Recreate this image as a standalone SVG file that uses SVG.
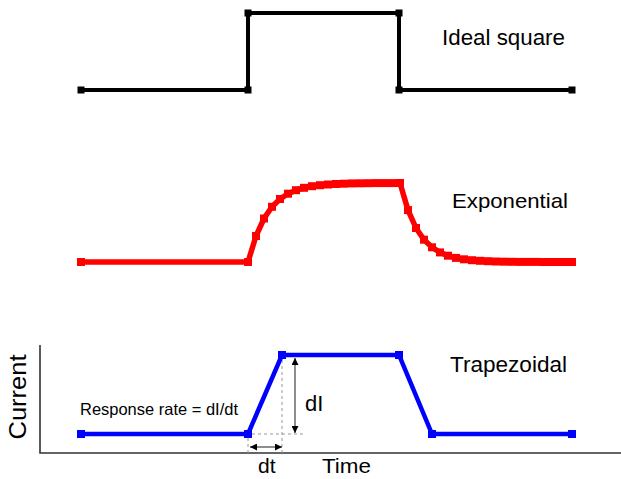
<svg xmlns="http://www.w3.org/2000/svg" width="621" height="479" viewBox="0 0 621 479">
<style>
.lbl{font-family:"Liberation Sans",Arial,sans-serif;fill:#000}
.blk{fill:none;stroke:#000;stroke-width:4}
.red{fill:none;stroke:#ff0000;stroke-width:5.5;stroke-linejoin:round}
.blu{fill:none;stroke:#0000ff;stroke-width:4.5}
.mb{fill:#000}
.mr{fill:#ff0000}
.mu{fill:#0000ff}
.dash{fill:none;stroke:#999;stroke-width:1;stroke-dasharray:3,3}
.arr{fill:none;stroke:#444;stroke-width:1.2}
.axis{fill:none;stroke:#333;stroke-width:1.6}
</style>
<defs>
<marker id="ah" viewBox="0 0 10 10" refX="10" refY="5" markerWidth="7" markerHeight="7" markerUnits="userSpaceOnUse" orient="auto-start-reverse">
<path d="M0,0 L10,5 L0,10 z" fill="#000"/>
</marker>
<rect id="sq" x="-4" y="-4" width="8" height="8"/>
<rect id="sr" x="-3.5" y="-3.5" width="7" height="7"/>
<rect id="sx" x="-4" y="-4" width="8" height="8"/>
</defs>
<rect width="621" height="479" fill="#fff"/>

<g id="axes">
<polyline class="axis" points="40,345 40,453 621,453"/>
</g>

<g id="ideal-square">
<polyline class="blk" points="81,90 248,90 248,13 399,13 399,90 572,90"/>
<g class="mb">
<use href="#sr" x="81" y="90"/><use href="#sr" x="248" y="90"/><use href="#sr" x="248" y="13"/>
<use href="#sr" x="399" y="13"/><use href="#sr" x="399" y="90"/><use href="#sr" x="572" y="90"/>
</g>
<text class="lbl" x="442" y="45" font-size="22" textLength="123" lengthAdjust="spacingAndGlyphs">Ideal square</text>
</g>

<g id="exponential">
<polyline class="red" points="81,262 248,262 256,236 264,218.5 272,206.8 280,199 288,193.7 296,190.2 304,187.8 312,186.2 320,185.2 328,184.5 336,184 344,183.7 352,183.4 360,183.3 368,183.2 376,183.1 384,183.1 392,183.1 400,183 408,210.1 416,228 424,239.7 432,247.3 440,252.4 448,255.7 456,257.9 464,259.3 472,260.2 480,260.8 488,261.2 496,261.5 504,261.7 512,261.8 520,261.9 528,261.9 536,261.9 544,262 552,262 560,262 568,262 572,262"/>
<g class="mr">
<use href="#sx" x="81" y="262"/><use href="#sx" x="248" y="262"/>
<use href="#sx" x="256" y="236"/><use href="#sx" x="264" y="218.5"/><use href="#sx" x="272" y="206.8"/><use href="#sx" x="280" y="199"/>
<use href="#sx" x="288" y="193.7"/><use href="#sx" x="296" y="190.2"/><use href="#sx" x="304" y="187.8"/><use href="#sx" x="312" y="186.2"/>
<use href="#sx" x="320" y="185.2"/><use href="#sx" x="328" y="184.5"/><use href="#sx" x="336" y="184"/><use href="#sx" x="344" y="183.7"/>
<use href="#sx" x="352" y="183.4"/><use href="#sx" x="360" y="183.3"/><use href="#sx" x="368" y="183.2"/><use href="#sx" x="376" y="183.1"/>
<use href="#sx" x="384" y="183.1"/><use href="#sx" x="392" y="183.1"/><use href="#sx" x="400" y="183"/>
<use href="#sx" x="408" y="210.1"/><use href="#sx" x="416" y="228"/><use href="#sx" x="424" y="239.7"/><use href="#sx" x="432" y="247.3"/>
<use href="#sx" x="440" y="252.4"/><use href="#sx" x="448" y="255.7"/><use href="#sx" x="456" y="257.9"/><use href="#sx" x="464" y="259.3"/>
<use href="#sx" x="472" y="260.2"/><use href="#sx" x="480" y="260.8"/><use href="#sx" x="488" y="261.2"/><use href="#sx" x="496" y="261.5"/>
<use href="#sx" x="504" y="261.7"/><use href="#sx" x="512" y="261.8"/><use href="#sx" x="520" y="261.9"/><use href="#sx" x="528" y="261.9"/>
<use href="#sx" x="536" y="261.9"/><use href="#sx" x="544" y="262"/><use href="#sx" x="552" y="262"/><use href="#sx" x="560" y="262"/>
<use href="#sx" x="568" y="262"/><use href="#sx" x="572" y="262"/>
</g>
<text class="lbl" x="452" y="208" font-size="21" textLength="116" lengthAdjust="spacingAndGlyphs">Exponential</text>
</g>

<g id="trapezoidal">
<g id="guides">
<line class="dash" x1="282" y1="360" x2="282" y2="453"/>
<line class="dash" x1="252" y1="434" x2="304" y2="434"/>
<line class="dash" x1="248" y1="438" x2="248" y2="453"/>
</g>
<polyline class="blu" points="81,434 248,434 282,355 399,355 432,434 572,434"/>
<g class="mu">
<use href="#sq" x="81" y="434"/><use href="#sq" x="248" y="434"/><use href="#sq" x="282" y="355"/>
<use href="#sq" x="399" y="355"/><use href="#sq" x="432" y="434"/><use href="#sq" x="572" y="434"/>
</g>
<text class="lbl" x="450" y="372" font-size="22" textLength="117" lengthAdjust="spacingAndGlyphs">Trapezoidal</text>
</g>

<g id="connectors">
<line class="arr" x1="295" y1="358" x2="295" y2="433" marker-start="url(#ah)" marker-end="url(#ah)"/>
<line class="arr" x1="250" y1="447" x2="282" y2="447" marker-start="url(#ah)" marker-end="url(#ah)"/>
</g>

<g id="labels">
<text class="lbl" x="80" y="415" font-size="16.5" textLength="158" lengthAdjust="spacingAndGlyphs">Response rate = dI/dt</text>
<text class="lbl" x="305" y="411" font-size="22">dI</text>
<text class="lbl" x="258" y="473" font-size="21">dt</text>
<text class="lbl" x="322" y="473" font-size="21" textLength="49" lengthAdjust="spacingAndGlyphs">Time</text>
<text class="lbl" font-size="23" text-anchor="middle" textLength="85" lengthAdjust="spacingAndGlyphs" transform="translate(26,397) rotate(-90)">Current</text>
</g>
</svg>
